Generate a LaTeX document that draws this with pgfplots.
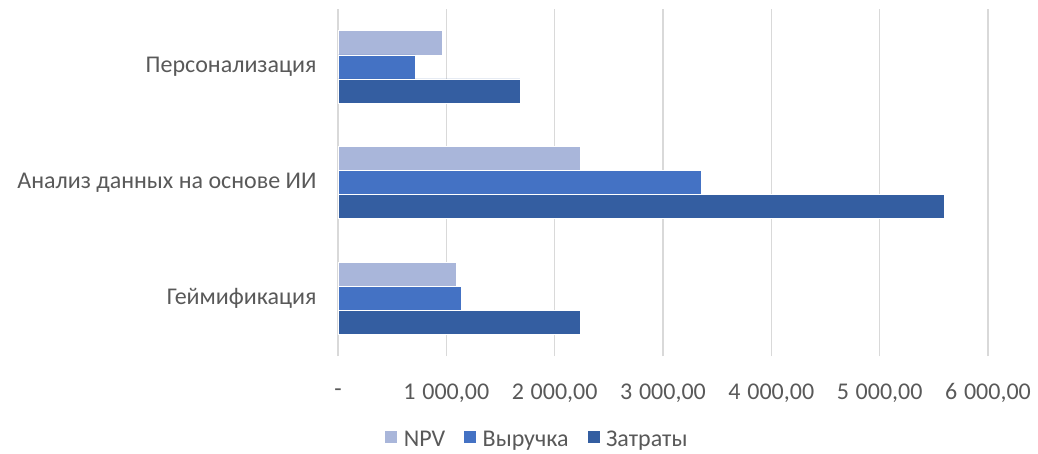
\documentclass[border=0pt]{standalone}
\usepackage{pgfplots}
\pgfplotsset{compat=1.18}
\usepackage{fontspec}
\setmainfont{Carlito}
\definecolor{cnpv}{HTML}{A9B6DA}
\definecolor{crev}{HTML}{4472C4}
\definecolor{ccost}{HTML}{345EA1}
\definecolor{ctxt}{HTML}{595959}
\definecolor{cgrid}{HTML}{D9D9D9}
\begin{document}
\begin{tikzpicture}[x=1pt,y=1pt]
\path[use as bounding box] (0,0) rectangle (1038,453);
\begin{axis}[
  at={(338pt,97pt)}, anchor=south west,
  scale only axis, width=650pt, height=347pt,
  xmin=0, xmax=6000, ymin=-0.5, ymax=2.5,
  xbar, bar width=0.208,
  axis line style={draw=none},
  major tick length=0pt,
  xmajorgrids, grid style={cgrid, line width=1.3pt},
  xtick={0,1000,2000,3000,4000,5000,6000},
  xticklabels={{-},{1\hspace{0.28em}000,00},{2\hspace{0.28em}000,00},{3\hspace{0.28em}000,00},{4\hspace{0.28em}000,00},{5\hspace{0.28em}000,00},{6\hspace{0.28em}000,00}},
  ytick={0,1,2},
  yticklabels={Геймификация,Анализ данных на основе ИИ,Персонализация},
  tick label style={font=\fontsize{24}{28}\selectfont, text=ctxt},
  xticklabel style={anchor=center, yshift=-37pt},
  yticklabel style={anchor=east, xshift=-18pt},
  legend style={at={(0.306,-0.241)}, anchor=center, draw=none, legend columns=-1,
    font=\fontsize{24}{28}\selectfont, text=ctxt,
    nodes={inner sep=2pt},
    /tikz/every odd column/.append style={column sep=4pt},
    /tikz/every even column/.append style={column sep=16pt}},
  legend image code/.code={\fill[#1] (0pt,-4pt) rectangle (13pt,9pt);},
]
\addplot[fill=cnpv, draw=white, line width=0.5pt, bar shift=0.208] coordinates {(1093,0) (2239,1) (958,2)};
\addplot[fill=crev, draw=white, line width=0.5pt, bar shift=0] coordinates {(1136,0) (3357,1) (715,2)};
\addplot[fill=ccost, draw=white, line width=0.5pt, bar shift=-0.208] coordinates {(2237,0) (5600,1) (1678,2)};
\legend{NPV,Выручка,Затраты}
\end{axis}
\end{tikzpicture}
\end{document}
